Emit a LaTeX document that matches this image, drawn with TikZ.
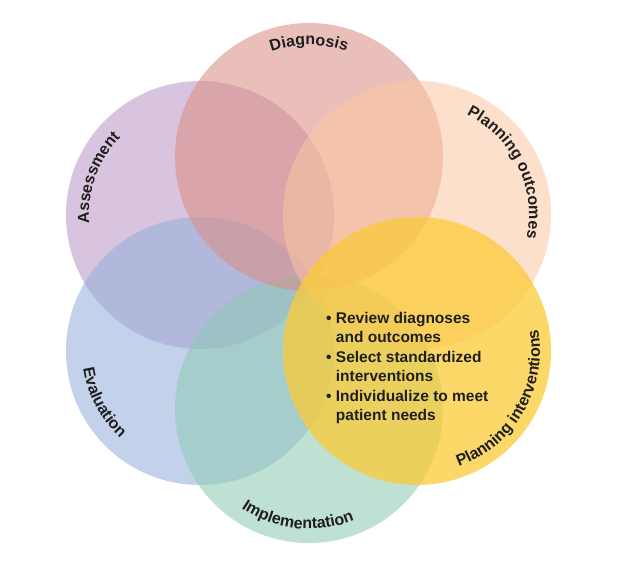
\documentclass[tikz,border=0pt]{standalone}
\usepackage{fontspec}
\setmainfont{Liberation Sans}
\usetikzlibrary{decorations.text}
\definecolor{assessC}{RGB}{184,148,195}
\definecolor{evalC}{RGB}{148,173,220}
\definecolor{implC}{RGB}{140,202,177}
\definecolor{diagC}{RGB}{220,140,128}
\definecolor{outC}{RGB}{250,199,162}
\definecolor{intC}{RGB}{251,203,55}
\colorlet{InkDark}{black!88}
\newcommand{\lblfont}{\fontsize{16}{19}\selectfont\bfseries}

\begin{document}
\begin{tikzpicture}[
    x=1pt,y=1pt,
    phase/.style={circle,minimum size=268pt,inner sep=0pt,fill opacity=0.55},
    arclabel/.style={decorate,decoration={text along path,text align=center,
      text color=InkDark,text={|\lblfont|#1}}}
  ]
    \fill[white] (0,0) rectangle (626,580);
    \coordinate (hub) at (309,297);
    % six overlapping phases
    \node[phase,fill=assessC] (assess) at ([shift={(-109,68)}]hub) {};
    \node[phase,fill=evalC] (eval) at ([shift={(-109,-68)}]hub) {};
    \node[phase,fill=implC] (impl) at ([shift={(0,-126)}]hub) {};
    \node[phase,fill=diagC] (diag) at ([shift={(0,126)}]hub) {};
    \node[phase,fill=outC] (plout) at ([shift={(108,68)}]hub) {};
    \node[phase,fill=intC,fill opacity=0.75] (plint) at ([shift={(108,-68)}]hub) {};
    % curved labels
    \path[arclabel=Assessment] ([shift={(205:111)}]assess.center) arc[start angle=205,end angle=115,radius=111];
    \path[arclabel=Diagnosis] ([shift={(135:112)}]diag.center) arc[start angle=135,end angle=45,radius=112];
    \path[arclabel=Planning outcomes] ([shift={(75:112)}]plout.center) arc[start angle=75,end angle=-23,radius=112];
    \path[arclabel=Planning interventions] ([shift={(-82:123)}]plint.center) arc[start angle=-82,end angle=22,radius=123];
    \path[arclabel=Implementation] ([shift={(215:120)}]impl.center) arc[start angle=215,end angle=313,radius=120];
    \path[arclabel=Evaluation] ([shift={(167:118)}]eval.center) arc[start angle=167,end angle=249,radius=118];
    % steps of this phase
    \node[anchor=north west,align=left,inner sep=0pt,text=InkDark,
      font=\fontsize{15.5}{19.4}\selectfont\bfseries] (steps) at (326,268)
      {• Review diagnoses\\\phantom{• }and outcomes\\• Select standardized\\\phantom{• }interventions\\• Individualize to meet\\\phantom{• }patient needs};
\end{tikzpicture}
\end{document}
